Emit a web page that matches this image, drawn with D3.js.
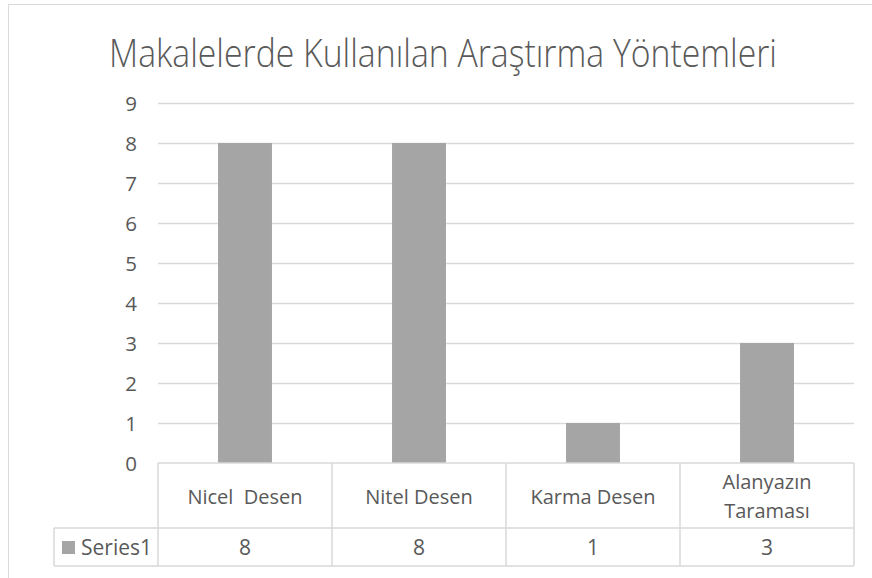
<!DOCTYPE html>
<html><head><meta charset="utf-8">
<script src="https://cdn.jsdelivr.net/npm/d3@7"></script>
<style>body{margin:0;background:#fff;}svg{display:block;}</style>
</head><body>
<script>
const title = "Makalelerde Kullanılan Araştırma Yöntemleri";
const categories = ["Nicel  Desen", "Nitel Desen", "Karma Desen", "Alanyazın Taraması"];
const categoryLines = [["Nicel\u00a0\u00a0Desen"], ["Nitel Desen"], ["Karma Desen"], ["Alanyazın", "Taraması"]];
const seriesName = "Series1";
const values = [8, 8, 1, 3];
const yTicks = [0,1,2,3,4,5,6,7,8,9];

const W = 872, H = 578;
const font = "'Open Sans', 'Noto Sans', sans-serif";
const txt = "#595959", grid = "#D9D9D9", bar = "#A5A5A5";
const svg = d3.select("body").append("svg").attr("width", W).attr("height", H);

// outer chart border
svg.append("rect").attr("x", 8.5).attr("y", 4.5).attr("width", 880).attr("height", 600)
  .attr("fill", "none").attr("stroke", grid).attr("stroke-width", 1);

svg.append("text").attr("x", 443).attr("y", 67).attr("text-anchor", "middle")
  .attr("font-family", font).attr("font-size", 38).attr("font-weight", 300).attr("fill", txt)
  .attr("textLength", 668).attr("lengthAdjust", "spacingAndGlyphs").text(title);

const left = 158, right = 854;
const x = d3.scaleBand().domain(categories).range([left, right]).paddingInner(0.69).paddingOuter(0.345);
const y = d3.scaleLinear().domain([0, 9]).range([463, 103]);

// gridlines
svg.append("g").selectAll("line").data(yTicks.filter(d => d > 0)).join("line")
  .attr("x1", left).attr("x2", right).attr("y1", d => Math.round(y(d)) + 0.5).attr("y2", d => Math.round(y(d)) + 0.5)
  .attr("stroke", grid).attr("stroke-width", 1.5);

// y axis labels
const yAxis = d3.axisLeft(y).tickValues(yTicks).tickSize(0).tickPadding(0).tickFormat(d3.format("d"));
const ya = svg.append("g").attr("transform", `translate(137,0)`).call(yAxis);
ya.select(".domain").remove();
ya.selectAll("text").attr("font-family", font).attr("font-size", 20.5).attr("fill", txt).attr("dy", "0.36em");

// bars
svg.append("g").selectAll("rect").data(values).join("rect")
  .attr("x", (d, i) => x(categories[i])).attr("width", x.bandwidth())
  .attr("y", d => y(d)).attr("height", d => y(0) - y(d)).attr("fill", bar);

// data table
const tTop = 463, tMid = 528, tBot = 566, legLeft = 54;
const tg = svg.append("g").attr("stroke", grid).attr("stroke-width", 1.5).attr("fill", "none");
tg.append("line").attr("x1", left).attr("x2", right).attr("y1", tTop).attr("y2", tTop);
tg.append("line").attr("x1", legLeft).attr("x2", right).attr("y1", tMid).attr("y2", tMid);
tg.append("line").attr("x1", legLeft).attr("x2", right).attr("y1", tBot).attr("y2", tBot);
tg.append("line").attr("x1", legLeft).attr("x2", legLeft).attr("y1", tMid).attr("y2", tBot);
const bounds = [left].concat(categories.map(c => x(c) + x.bandwidth() + x.step() * x.paddingInner() / 2));
tg.selectAll("line.v").data(bounds).join("line").attr("class", "v")
  .attr("x1", d => d).attr("x2", d => d).attr("y1", tTop).attr("y2", tBot);

// header labels
categories.forEach((c, i) => {
  const cx = x(c) + x.bandwidth() / 2;
  const lines = categoryLines[i];
  const lh = 29;
  const cy = (tTop + tMid) / 2 + 1;
  lines.forEach((l, j) => {
    svg.append("text").attr("x", cx).attr("y", cy + (j - (lines.length - 1) / 2) * lh)
      .attr("dy", "0.36em").attr("text-anchor", "middle")
      .attr("font-family", font).attr("font-size", 20).attr("fill", txt).text(l);
  });
  svg.append("text").attr("x", cx).attr("y", (tMid + tBot) / 2).attr("dy", "0.36em")
    .attr("text-anchor", "middle").attr("font-family", font).attr("font-size", 21).attr("fill", txt).text(values[i]);
});

// legend cell
svg.append("rect").attr("x", 62).attr("y", 541).attr("width", 13).attr("height", 13).attr("fill", bar);
svg.append("text").attr("x", 81).attr("y", (tMid + tBot) / 2).attr("dy", "0.36em")
  .attr("font-family", font).attr("font-size", 21).attr("fill", txt).text(seriesName);
</script>
</body></html>
